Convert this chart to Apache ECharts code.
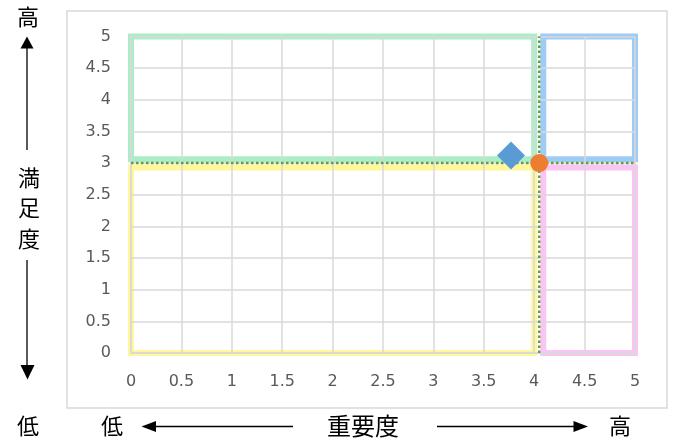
<!DOCTYPE html>
<html>
<head>
<meta charset="utf-8">
<script src="https://cdn.jsdelivr.net/npm/echarts@6/dist/echarts.min.js"></script>
<style>html,body{margin:0;padding:0;background:#fff}#c{width:675px;height:443px}</style>
</head>
<body>
<div id="c"></div>
<script>
// ---- data ----
const axisMin = 0, axisMax = 5, axisStep = 0.5;
const itemImportance = [3.77];
const itemSatisfaction = [3.12];
const avgImportance = [4.05];
const avgSatisfaction = [3.0];
const quadGreen  = [[0, 3.06], [0, 5], [4.0, 5], [4.0, 3.06], [0, 3.06]];
const quadBlue   = [[4.09, 3.06], [4.09, 5], [5, 5], [5, 3.06], [4.09, 3.06]];
const quadYellow = [[0, 0], [0, 2.93], [4.0, 2.93], [4.0, 0], [0, 0]];
const quadPink   = [[4.09, 0], [4.09, 2.93], [5, 2.93], [5, 0], [4.09, 0]];
const vLine = [[avgImportance[0], 0], [avgImportance[0], 5]];
const hLine = [[0, avgSatisfaction[0]], [5, avgSatisfaction[0]]];

const chart = echarts.init(document.getElementById('c'), null, {renderer: 'canvas'});

function quad(data, color) {
  return {
    type: 'line', data: data, symbol: 'none', z: 1, clip: false, silent: true,
    lineStyle: {color: color, width: 6, join: 'miter', cap: 'square'}
  };
}
const labelStyle = {color: '#595959', fontSize: 16, fontFamily: 'DejaVu Sans'};
const cjk = 'Noto Sans CJK JP';
const arrowStroke = {stroke: '#000', lineWidth: 1.3};

chart.setOption({
  animation: false,
  grid: {left: 131, top: 36.5, right: 40, bottom: 90, containLabel: false},
  xAxis: {
    type: 'value', min: axisMin, max: axisMax, interval: axisStep, z: 3,
    axisLine: {show: true, lineStyle: {color: '#d9d9d9', width: 1.5}},
    axisTick: {show: false},
    splitLine: {show: true, lineStyle: {color: '#d9d9d9', width: 1.5}},
    axisLabel: Object.assign({margin: 21}, labelStyle)
  },
  yAxis: {
    type: 'value', min: axisMin, max: axisMax, interval: axisStep, z: 3,
    axisLine: {show: true, lineStyle: {color: '#d9d9d9', width: 1.5}},
    axisTick: {show: false},
    splitLine: {show: true, lineStyle: {color: '#d9d9d9', width: 1.5}},
    axisLabel: Object.assign({margin: 20}, labelStyle)
  },
  series: [
    quad(quadGreen, '#abedc6'),
    quad(quadBlue, '#9fcbf7'),
    quad(quadYellow, '#fff799'),
    quad(quadPink, '#fac4f3'),
    {type: 'line', data: vLine, symbol: 'none', z: 5, clip: false,
     lineStyle: {color: '#62a03e', width: 2.5, type: [2.5, 2.5]}},
    {type: 'line', data: hLine, symbol: 'none', z: 5, clip: false,
     lineStyle: {color: '#62a03e', width: 2.5, type: [2.5, 2.5]}},
    {type: 'scatter', z: 6, symbol: 'diamond', symbolSize: 28,
     data: itemImportance.map((v, i) => [v, itemSatisfaction[i]]),
     itemStyle: {color: '#5b9bd5', opacity: 1}},
    {type: 'scatter', z: 7, symbol: 'circle', symbolSize: 18,
     data: avgImportance.map((v, i) => [v, avgSatisfaction[i]]),
     itemStyle: {color: '#ed7d31', opacity: 1}}
  ],
  graphic: [
    {type: 'rect', shape: {x: 67, y: 11, width: 600, height: 397},
     style: {fill: 'none', stroke: '#d9d9d9', lineWidth: 1.5}, z: -1},
    // vertical axis annotation
    {type: 'text', x: 28, y: 17, style: {text: '高', font: '22px "' + cjk + '"', fill: '#000', align: 'center', verticalAlign: 'middle'}},
    {type: 'line', shape: {x1: 27, y1: 48, x2: 27, y2: 150}, style: arrowStroke},
    {type: 'polygon', shape: {points: [[27, 36.5], [20.5, 48.5], [33.5, 48.5]]}, style: {fill: '#000'}},
    {type: 'text', x: 29, y: 208, style: {text: '満\n足\n度', font: '22px "' + cjk + '"', lineHeight: 30.5, fill: '#000', align: 'center', verticalAlign: 'middle'}},
    {type: 'line', shape: {x1: 27, y1: 260, x2: 27, y2: 366}, style: arrowStroke},
    {type: 'polygon', shape: {points: [[20.5, 365], [34.5, 365], [27.5, 379.5]]}, style: {fill: '#000'}},
    {type: 'text', x: 28, y: 426, style: {text: '低', font: '22px "' + cjk + '"', fill: '#000', align: 'center', verticalAlign: 'middle'}},
    // horizontal axis annotation
    {type: 'text', x: 112, y: 426, style: {text: '低', font: '22px "' + cjk + '"', fill: '#000', align: 'center', verticalAlign: 'middle'}},
    {type: 'polygon', shape: {points: [[141.5, 426.5], [156, 421], [156, 432]]}, style: {fill: '#000'}},
    {type: 'line', shape: {x1: 155, y1: 426.5, x2: 293, y2: 426.5}, style: arrowStroke},
    {type: 'text', x: 363, y: 426, style: {text: '重要度', font: '24px "' + cjk + '"', fill: '#000', align: 'center', verticalAlign: 'middle'}},
    {type: 'line', shape: {x1: 437, y1: 426.5, x2: 575, y2: 426.5}, style: arrowStroke},
    {type: 'polygon', shape: {points: [[573.5, 421], [588, 426.5], [573.5, 432]]}, style: {fill: '#000'}},
    {type: 'text', x: 620, y: 426, style: {text: '高', font: '22px "' + cjk + '"', fill: '#000', align: 'center', verticalAlign: 'middle'}}
  ]
});
</script>
</body>
</html>
